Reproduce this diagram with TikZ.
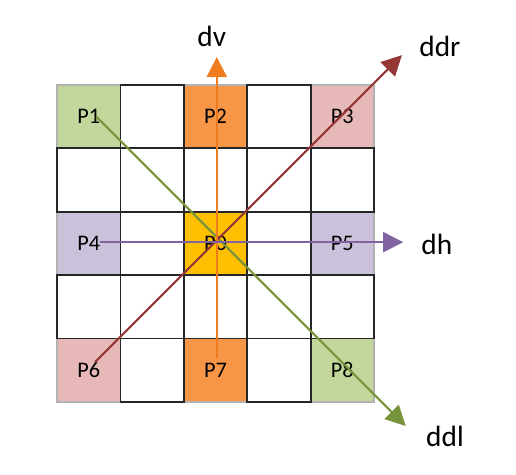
\documentclass[tikz,border=0pt]{standalone}
\usepackage{fontspec}
\setmainfont{Carlito}
\usetikzlibrary{arrows.meta,calc}
\definecolor{gruen}{HTML}{C3D69B}
\definecolor{orng}{HTML}{F79646}
\definecolor{rosa}{HTML}{E6B9B8}
\definecolor{lila}{HTML}{CCC1DA}
\definecolor{gold}{HTML}{FFC000}
\definecolor{pfv}{HTML}{F07C20}
\definecolor{pfr}{HTML}{953735}
\definecolor{pfh}{HTML}{8064A2}
\definecolor{pfl}{HTML}{77933C}
\tikzset{
  zelle/.style={minimum size=1.9cm,inner sep=0pt,draw=black!85,line width=1.5pt,fill=white,font=\fontsize{19}{22}\selectfont},
  pzelle/.style={zelle,draw=black!30},
  pfeil/.style={-{Triangle[length=6mm,width=6mm]},line width=1.8pt},
  richt/.style={font=\fontsize{25}{30}\selectfont},
}
\begin{document}
\begin{tikzpicture}[x=1.9cm,y=1.9cm]
  \useasboundingbox (-0.9,-1.15) rectangle (7.24,6.34);
  % farbige Zellen
  \node[pzelle,fill=gruen] (p1) at (0.5,4.5) {P1};
  \node[pzelle,fill=orng]  (p2) at (2.5,4.5) {P2};
  \node[pzelle,fill=rosa]  (p3) at (4.5,4.5) {P3};
  \node[pzelle,fill=lila]  (p4) at (0.5,2.5) {P4};
  \node[pzelle,fill=gold]  (p0) at (2.5,2.5) {P0};
  \node[pzelle,fill=lila]  (p5) at (4.5,2.5) {P5};
  \node[pzelle,fill=rosa]  (p6) at (0.5,0.5) {P6};
  \node[pzelle,fill=orng]  (p7) at (2.5,0.5) {P7};
  \node[pzelle,fill=gruen] (p8) at (4.5,0.5) {P8};
  % weisse Zellen
  \foreach \i/\j in {1/4,3/4,0/3,1/3,2/3,3/3,4/3,1/2,3/2,0/1,1/1,2/1,3/1,4/1,1/0,3/0}
    \node[zelle] (z\i\j) at (\i+0.5,\j+0.5) {};
  % Richtungen
  \coordinate (vs) at (2.52,0.7);
  \coordinate (ve) at (2.52,5.44);
  \coordinate (rs) at (0.6,0.63);
  \coordinate (re) at (5.44,5.47);
  \coordinate (hs) at (0.68,2.52);
  \coordinate (he) at (5.46,2.52);
  \coordinate (ls) at (0.62,4.5);
  \coordinate (le) at (5.5,-0.38);
  \draw[pfeil,pfl] (ls) -- (le);
  \draw[pfeil,pfr] (rs) -- (re);
  \draw[pfeil,pfv] (vs) -- (ve);
  \draw[pfeil,pfh] (hs) -- (he);
  \node[richt] (dv)  at (2.44,5.76) {dv};
  \node[richt] (ddr) at (6.04,5.6) {ddr};
  \node[richt] (dh)  at (5.99,2.48) {dh};
  \node[richt] (ddl) at (6.12,-0.55) {ddl};
\end{tikzpicture}
\end{document}
